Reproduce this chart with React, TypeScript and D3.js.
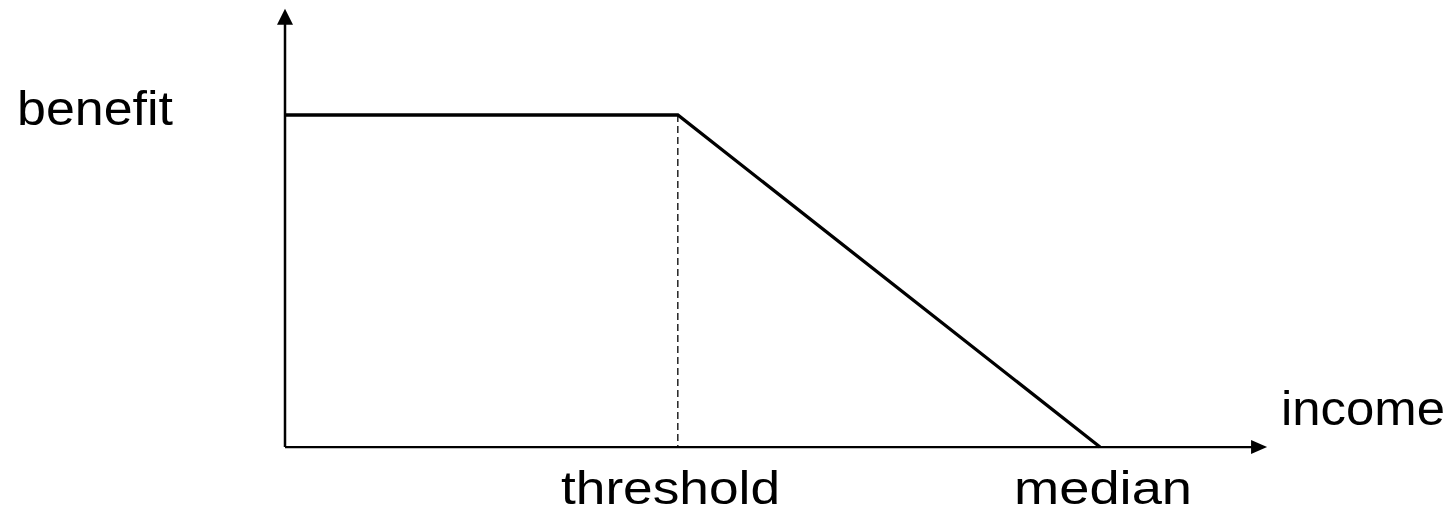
import React from "react";
import * as d3 from "d3";

// benefit schedule: flat up to the threshold, then phased out to zero at the median
const incomePoints = [0, 0.482, 1];
const benefitPoints = [1, 1, 0];
const tickNames = ["threshold", "median"];
const axisNames = { x: "income", y: "benefit" };

const W = 1451;
const H = 515;

export default function App() {
  const x = d3.scaleLinear().domain([0, 1]).range([285, 1100]);
  const y = d3.scaleLinear().domain([0, 1]).range([447, 115]);
  const xEnd = 1.205;
  const yEnd = 1.32;

  const line = d3.line<number>()
    .x((_, i) => x(incomePoints[i]))
    .y(d => y(d));

  const font = "Arial, 'Liberation Sans', sans-serif";

  // arrowheads
  const ax = x(xEnd), ay = y(0);
  const xArrow = `M${ax},${ay} L${ax - 16},${ay - 7} L${ax - 16},${ay + 7} Z`;
  const bx = x(0), by = y(yEnd);
  const yArrow = `M${bx},${by} L${bx - 8},${by + 16} L${bx + 8},${by + 16} Z`;

  return (
    <svg width={W} height={H} style={{ position: "absolute", left: 0, top: 0, background: "#fff" }}>
      {/* axes */}
      <line x1={x(0)} y1={y(0)} x2={ax - 12} y2={y(0)} stroke="#000" strokeWidth={2.25} />
      <line x1={x(0)} y1={y(0)} x2={x(0)} y2={by + 12} stroke="#000" strokeWidth={2.5} />
      <path d={xArrow} fill="#000" />
      <path d={yArrow} fill="#000" />

      {/* threshold guide */}
      <line
        x1={x(incomePoints[1])} x2={x(incomePoints[1])}
        y1={y(benefitPoints[1])} y2={y(0)}
        stroke="#000" strokeWidth={1.3} strokeDasharray="7,4"
      />

      {/* benefit line */}
      <path d={line(benefitPoints) || ""} fill="none" stroke="#000" strokeWidth={3.3} strokeLinejoin="miter" />

      {/* labels */}
      <g fontFamily={font} fontSize={48} fill="#000">
        <text x={17} y={125} textLength={156} lengthAdjust="spacingAndGlyphs">{axisNames.y}</text>
        <text x={1281} y={425} textLength={164} lengthAdjust="spacingAndGlyphs">{axisNames.x}</text>
      </g>
      <g fontFamily={font} fontSize={47} fill="#000">
        <text x={561} y={504} textLength={219} lengthAdjust="spacingAndGlyphs">{tickNames[0]}</text>
        <text x={1014} y={504} textLength={178} lengthAdjust="spacingAndGlyphs">{tickNames[1]}</text>
      </g>
    </svg>
  );
}
